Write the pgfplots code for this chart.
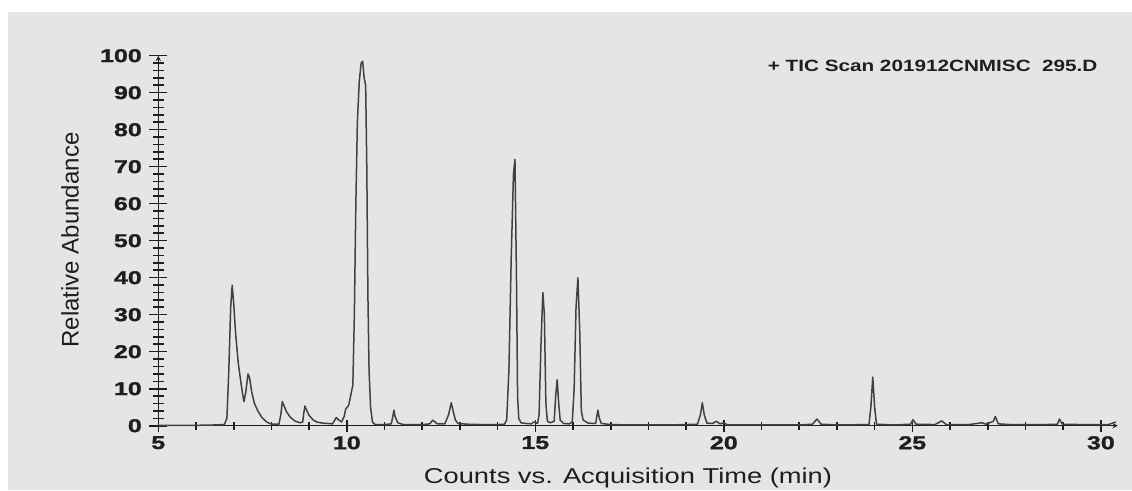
\documentclass[border=0pt]{standalone}
\usepackage{fontspec}
\setmainfont{Liberation Sans}
\newfontfamily\tickfont[FakeStretch=1.35,FakeBold=1.5]{Liberation Sans Bold}
\newfontfamily\labfont[FakeStretch=1.27]{Liberation Sans}
\usepackage{pgfplots}
\pgfplotsset{compat=1.18}
\definecolor{bg}{RGB}{229,229,229}
\definecolor{ink}{RGB}{30,30,30}
\definecolor{trace}{RGB}{65,65,65}

\pgfplotstableread{
x y
5.00 0.1
5.50 0.1
6.00 0.1
6.50 0.2
6.75 0.3
6.82 2
6.87 15
6.92 32
6.96 38
7.00 33
7.05 25
7.12 17
7.20 11
7.27 6.5
7.32 9
7.38 14
7.42 13
7.48 9
7.55 6
7.65 3.8
7.75 2.2
7.85 1.2
7.95 0.6
8.05 0.4
8.20 0.4
8.25 3
8.29 6.5
8.33 5.5
8.40 3.8
8.50 2.3
8.62 1.3
8.75 0.8
8.83 1.0
8.86 3.5
8.89 5.3
8.93 4.3
9.00 2.8
9.10 1.6
9.20 1.0
9.35 0.7
9.50 0.6
9.62 0.5
9.68 1.5
9.72 2.2
9.78 1.6
9.86 1.0
9.93 2.5
9.97 4.5
10.05 5.5
10.12 9
10.16 11
10.20 30
10.24 60
10.28 82
10.33 93
10.38 98
10.42 98.5
10.46 94
10.50 92
10.53 70
10.56 35
10.59 15
10.63 5
10.68 1
10.75 0.3
11.00 0.3
11.18 0.5
11.22 2.5
11.25 4.2
11.28 2.5
11.35 0.8
11.50 0.3
12.00 0.3
12.20 0.5
12.28 1.5
12.34 1.0
12.40 0.5
12.60 0.5
12.70 3
12.77 6.2
12.82 4
12.88 1.5
12.95 0.6
13.20 0.4
13.60 0.3
14.00 0.3
14.18 0.4
14.24 1.5
14.30 15
14.36 45
14.42 68
14.46 72
14.50 40
14.53 8
14.56 2
14.62 0.8
14.75 0.6
14.90 0.5
14.95 1.0
15.02 0.8
15.06 0.6
15.10 3
15.15 22
15.20 36
15.24 30
15.28 6
15.32 1.2
15.40 0.8
15.50 1.2
15.54 8
15.58 12.4
15.62 6
15.66 1.5
15.75 0.6
15.90 0.5
15.98 1
16.03 10
16.08 32
16.13 40
16.18 25
16.22 4
16.27 1.5
16.32 1.2
16.40 0.7
16.60 0.6
16.66 4.2
16.70 2
16.75 0.6
17.00 0.3
17.50 0.2
18.00 0.2
18.50 0.2
19.00 0.3
19.30 0.4
19.38 3
19.43 6.2
19.48 3
19.55 0.7
19.70 0.6
19.80 1.2
19.90 0.5
20.00 0.8
20.10 0.2
21.00 0.2
22.00 0.2
22.35 0.4
22.47 1.8
22.58 0.4
23.00 0.2
23.85 0.3
23.90 5
23.95 13.1
24.00 5
24.05 0.4
24.50 0.2
24.95 0.4
25.02 1.6
25.10 0.4
25.60 0.3
25.78 1.3
25.90 0.3
26.50 0.3
26.85 0.8
26.95 0.4
27.15 1.2
27.20 2.5
27.28 0.5
27.60 0.3
28.50 0.3
28.85 0.4
28.90 1.8
28.98 0.4
29.50 0.3
30.20 0.3
30.40 1.0
}\tic

\pgfplotsset{
  tracebox/.style={
    at={(158.3pt,64.3pt)}, anchor=south west,
    scale only axis, width=959.5pt, height=370pt,
    xmin=5, xmax=30.45, ymin=0, ymax=100,
    axis line style={-, ink, line width=1.4pt},
    tick align=outside,
    tick style={ink, line width=1.6pt},
    /pgf/number format/assume math mode=true,
    ticklabel style={font=\tickfont\fontsize{18.5}{20}\selectfont, text=ink},
    clip=false,
  }
}

\begin{document}
\begin{tikzpicture}[x=1pt,y=1pt]
\useasboundingbox (0,0) rectangle (1132,490);
\fill[white] (0,0) rectangle (1132,490);
\fill[bg] (8,0) rectangle (1132,478);
% x axis with its own tick lengths
\begin{axis}[tracebox,
    axis x line=bottom, axis y line=none,
    xtick={5,10,15,20,25,30}, minor x tick num=4, ytick=\empty,
    major tick length=12pt, minor tick length=8pt,
    xticklabel style={anchor=north, yshift=-1pt},
]
\end{axis}
% y axis and the trace
\begin{axis}[tracebox,
    axis x line=none, axis y line=left,
    ytick={0,10,...,100}, minor y tick num=4, xtick=\empty,
    major tick length=18pt, minor tick length=11pt,
    yticklabel style={anchor=east, xshift=-4pt},
]
\addplot[trace, line width=1.5pt, line join=round] table[x=x,y=y] {\tic};
\end{axis}
\node[ink, font=\labfont\fontsize{21.5}{24}\selectfont] at (628,12) {Counts vs. Acquisition Time (min)};
\node[ink, rotate=90, font=\fontsize{24}{26}\selectfont] at (70,250) {Relative Abundance};
\node[ink, anchor=east, font=\labfont\bfseries\fontsize{16.3}{18}\selectfont] at (1101,424) {+ TIC Scan 201912CNMISC\ \ 295.D};
\end{tikzpicture}
\end{document}
